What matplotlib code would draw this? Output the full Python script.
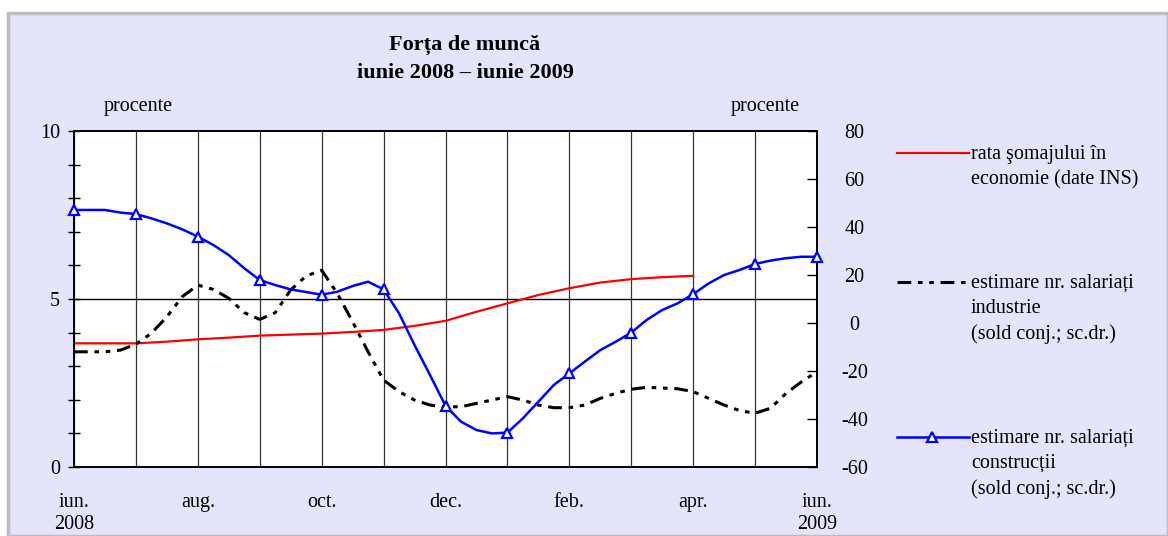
import matplotlib

matplotlib.use("Agg")
import matplotlib.pyplot as plt
import numpy as np
from matplotlib.lines import Line2D
from matplotlib.patches import Rectangle

plt.rcParams["font.family"] = ["Liberation Serif", "DejaVu Serif"]

# month index: 0 = iun. 2008 ... 12 = iun. 2009
half_months = np.arange(0, 10.5, 0.5)
quarter_months = np.arange(0, 12.25, 0.25)
# rata somajului (procente, scala stanga), until apr. 2009
unemployment = [3.68, 3.68, 3.68, 3.73, 3.80, 3.85, 3.91, 3.94, 3.97, 4.02, 4.08,
                4.20, 4.35, 4.62, 4.87, 5.12, 5.32, 5.49, 5.59, 5.65, 5.69]
# sold conjunctural (scala dreapta), quarter-month readings
industry = [-12.0, -12.0, -12.0, -11.3, -8.8, -4.3, 2.6, 11.0, 15.8, 14.0, 10.3, 4.3, 1.5,
            4.3, 13.8, 19.6, 22.0, 12.4, 0.5, -12.0, -23.8, -28.6, -32.1, -34.2, -34.9,
            -34.9, -33.5, -32.1, -30.7, -32.1, -34.2, -35.3, -35.3, -34.2, -31.4, -29.3,
            -27.6, -26.8, -27.1, -27.4, -28.6, -31.4, -34.2, -36.5, -37.6, -35.5, -29.3,
            -24.5, -20.3]
construction = [47.1, 47.1, 47.1, 46.0, 45.4, 43.6, 41.5, 39.0, 36.0, 32.5, 28.3, 22.8, 17.9,
                15.8, 14.0, 12.9, 11.8, 13.0, 15.4, 17.2, 14.0, 4.0, -9.2, -21.7, -34.5,
                -41.1, -44.6, -46.0, -45.7, -39.7, -32.8, -25.8, -21.0, -16.1, -11.3, -7.8,
                -4.0, 1.3, 5.4, 8.2, 12.0, 16.5, 20.0, 22.1, 24.6, 26.0, 27.0, 27.6, 27.6]
tick_labels = ["iun.\n2008", "", "aug.", "", "oct.", "", "dec.", "", "feb.", "", "apr.", "", "iun.\n2009"]
legend_labels = [
    "rata şomajului în\neconomie (date INS)",
    "estimare nr. salariați\nindustrie\n(sold conj.; sc.dr.)",
    "estimare nr. salariați\nconstrucții\n(sold conj.; sc.dr.)",
]

W, H = 1168, 536
RED = "#FF0000"
BLUE = "#0000FF"
DASH = (0, (4.5, 2.2, 1.5, 2.2, 1.5, 2.2))
FS = 14.5

fig = plt.figure(figsize=(W / 100, H / 100), dpi=100, facecolor="white")
fig.add_artist(Rectangle((8 / W, 0), 1 - 8 / W, 1 - 13 / H, transform=fig.transFigure,
                         facecolor="#E4E4FA", edgecolor="#BDBDBD", linewidth=2.5, zorder=-10))

ax = fig.add_axes([74 / W, (H - 467) / H, (817 - 74) / W, (467 - 131) / H])
ax.set_facecolor("white")
ax2 = ax.twinx()

ax.plot(half_months, unemployment, color=RED, linewidth=1.6, zorder=3)
ax2.plot(quarter_months, industry, color="black", linewidth=2.2, linestyle=DASH, zorder=2)
ax2.plot(quarter_months, construction, color=BLUE, linewidth=1.8, zorder=3)
ax2.plot(quarter_months[::4], construction[::4], linestyle="none", marker="^", markersize=7.5,
         markerfacecolor="white", markeredgecolor=BLUE, markeredgewidth=1.6, zorder=4,
         clip_on=False)

ax.set_xlim(0, 12)
ax.set_ylim(0, 10)
ax2.set_ylim(-60, 80)

ax.set_xticks(range(13))
ax.set_xticklabels(tick_labels, fontsize=FS)
ax.tick_params(axis="x", length=0, pad=19)
ax.grid(axis="x", color="#333333", linewidth=0.9)
ax.axhline(5, color="black", linewidth=1.0)

ax.set_yticks(range(11))
ax.set_yticklabels(["0", "", "", "", "", "5", "", "", "", "", "10"], fontsize=FS)
ax.tick_params(axis="y", direction="inout", length=8, width=1, pad=6)

ax2.set_yticks(range(-60, 81, 20))
ax2.set_yticklabels([str(v) for v in range(-60, 81, 20)], fontsize=FS)
ax2.tick_params(axis="y", direction="in", length=7, width=1, pad=27)
for lbl in ax2.get_yticklabels():
    lbl.set_horizontalalignment("center")

for a in (ax, ax2):
    for sp in a.spines.values():
        sp.set_linewidth(1.3)
        sp.set_color("black")

fig.text(465 / W, 1 - 45 / H, "Forța de muncă", ha="center", va="center",
         fontsize=16, fontweight="bold")
fig.text(465 / W, 1 - 73 / H, "iunie 2008 – iunie 2009", ha="center", va="center",
         fontsize=16, fontweight="bold")
fig.text(138 / W, 1 - 106 / H, "procente", ha="center", va="center", fontsize=FS)
fig.text(765 / W, 1 - 106 / H, "procente", ha="center", va="center", fontsize=FS)

# legend drawn by hand to match the tall spacing of the original
legend_rows = [153, 282, 437]
styles = [
    dict(color=RED, linewidth=1.6),
    dict(color="black", linewidth=2.2, linestyle=DASH),
    dict(color=BLUE, linewidth=1.8),
]
for y, style, label in zip(legend_rows, styles, legend_labels):
    yf = 1 - y / H
    fig.add_artist(Line2D([897 / W, 969 / W], [yf, yf], transform=fig.transFigure, **style))
    fig.text(971 / W, yf + 8 / H, label, ha="left", va="top", fontsize=FS, linespacing=1.42)
fig.add_artist(Line2D([932 / W], [1 - 437 / H], transform=fig.transFigure, marker="^",
                      markersize=7.5, markerfacecolor="white", markeredgecolor=BLUE,
                      markeredgewidth=1.6, linestyle="none"))

fig.savefig("out.png", dpi=100, facecolor=fig.get_facecolor())
